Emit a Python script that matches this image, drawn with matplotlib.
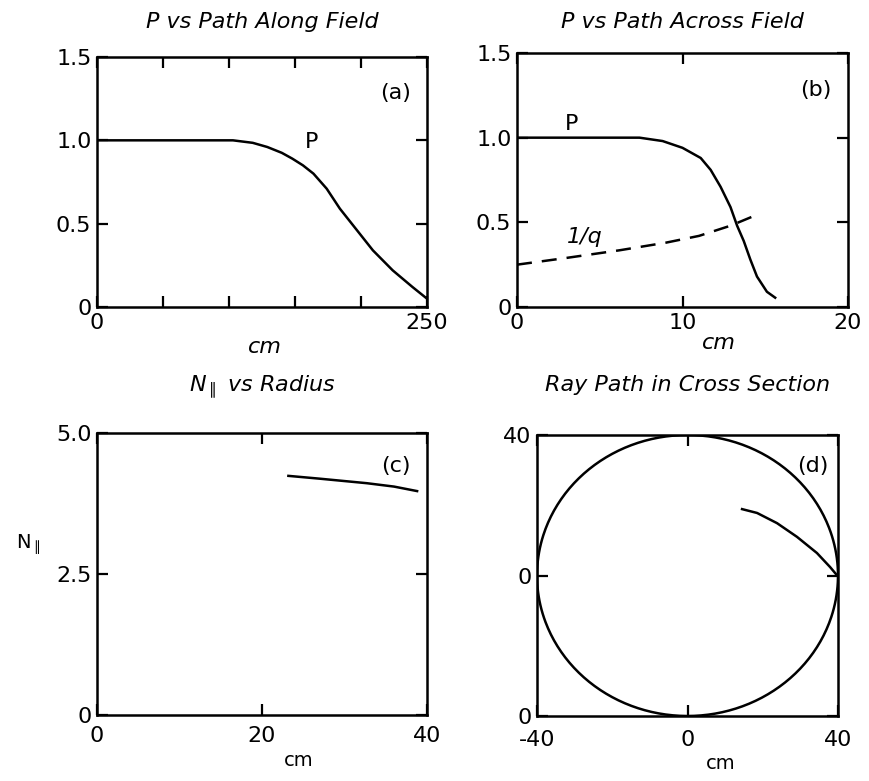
import numpy as np
import matplotlib
matplotlib.use("Agg")
import matplotlib.pyplot as plt

# (a) P vs path along field
a_x = [0, 40, 78, 103, 118, 129, 140, 148, 156, 164, 174, 184, 197, 209, 224, 239, 250]
a_p = [1.0, 1.0, 1.0, 1.0, 0.985, 0.96, 0.925, 0.89, 0.85, 0.80, 0.71, 0.59, 0.46, 0.34, 0.22, 0.12, 0.05]

# (b) P and 1/q vs path across field
b_x = [0, 4, 7.4, 8.8, 10.0, 11.1, 11.7, 12.3, 12.9, 13.3, 13.7, 14.1, 14.5, 15.1, 15.6]
b_p = [1.0, 1.0, 1.0, 0.98, 0.94, 0.88, 0.81, 0.71, 0.59, 0.48, 0.39, 0.28, 0.18, 0.09, 0.055]
q_x = [0, 3, 6.2, 9, 11, 12.9, 14.5]
q_inv = [0.25, 0.29, 0.335, 0.38, 0.42, 0.48, 0.545]

# (c) N_par vs radius
c_r = [23.2, 27, 32.7, 36, 38.8]
c_n = [4.24, 4.19, 4.11, 4.05, 3.97]

# (d) ray path in cross section
d_x = [14.5, 18.5, 23.8, 29.1, 34.4, 37.9, 39.7]
d_y = [18.9, 17.8, 14.9, 11.0, 6.4, 2.4, 0.1]
circle_r = 40

W, H = 869, 781
fig = plt.figure(figsize=(W / 100, H / 100), dpi=100)
plt.rcParams['font.family'] = 'DejaVu Sans'

LW = 1.8
FS = 16


def box(l, t, r, b):
    return fig.add_axes([l / W, (H - b) / H, (r - l) / W, (b - t) / H])


def style(ax, xpad=4):
    for s in ax.spines.values():
        s.set_linewidth(LW)
    ax.tick_params(direction='in', length=8, width=1.6, labelsize=FS,
                   top=True, right=True, pad=4)
    ax.tick_params(axis='x', pad=xpad)


# ---- (a)
ax = box(97, 57, 427, 307)
ax.plot(a_x, a_p, color='black', lw=LW)
ax.set_xlim(0, 250)
ax.set_ylim(0, 1.5)
ax.set_xticks([0, 50, 100, 150, 200, 250])
ax.set_xticklabels(['0', '', '', '', '', '250'])
ax.set_yticks([0, 0.5, 1.0, 1.5])
ax.set_yticklabels(['0', '0.5', '1.0', '1.5'])
style(ax)
ax.set_title('P vs Path Along Field', fontsize=FS, style='oblique', pad=21)
ax.text(0.95, 0.83, '(a)', transform=ax.transAxes, fontsize=FS, ha='right')
ax.text(0.63, 0.66, 'P', transform=ax.transAxes, fontsize=FS, va='center')
ax.text(0.51, -0.16, 'cm', transform=ax.transAxes, fontsize=FS,
        style='oblique', ha='center', va='center')

# ---- (b)
ax = box(517, 53, 848, 307)
ax.plot(b_x, b_p, color='black', lw=LW)
ax.plot(q_x, q_inv, color='black', lw=LW, dashes=(6, 4))
ax.set_xlim(0, 20)
ax.set_ylim(0, 1.5)
ax.set_xticks([0, 10, 20])
ax.set_yticks([0, 0.5, 1.0, 1.5])
ax.set_yticklabels(['0', '0.5', '1.0', '1.5'])
style(ax)
ax.set_title('P vs Path Across Field', fontsize=FS, style='oblique', pad=18)
ax.text(0.95, 0.83, '(b)', transform=ax.transAxes, fontsize=FS, ha='right')
ax.text(0.145, 0.72, 'P', transform=ax.transAxes, fontsize=FS,
        va='center')
ax.text(0.15, 0.275, '1/q', transform=ax.transAxes, fontsize=FS,
        style='oblique', va='center')
ax.text(0.61, -0.14, 'cm', transform=ax.transAxes, fontsize=FS,
        style='oblique', ha='center', va='center')

# ---- (c)
ax = box(97, 433, 427, 715)
ax.plot(c_r, c_n, color='black', lw=LW)
ax.set_xlim(0, 40)
ax.set_ylim(0, 5)
ax.set_xticks([0, 20, 40])
ax.set_yticks([0, 2.5, 5.0])
ax.set_yticklabels(['0', '2.5', '5.0'])
style(ax, xpad=8)
ax.set_title(r'N$_{\parallel}$ vs Radius', fontsize=FS, style='oblique', pad=30)
ax.text(0.95, 0.86, '(c)', transform=ax.transAxes, fontsize=FS, ha='right')
ax.text(0.61, -0.16, 'cm', transform=ax.transAxes, fontsize=FS - 2,
        ha='center', va='center')
fig.text(28 / W, 1 - 545 / H, r'N$_{\parallel}$', fontsize=FS - 2,
         ha='center', va='center')

# ---- (d)
ax = box(537, 435, 838, 716)
th = np.linspace(0, 2 * np.pi, 400)
ax.plot(circle_r * np.cos(th), circle_r * np.sin(th), color='black', lw=LW)
ax.plot(d_x, d_y, color='black', lw=LW)
ax.set_xlim(-40, 40)
ax.set_ylim(-40, 40)
ax.set_xticks([-40, 0, 40])
ax.set_xticklabels(['-40', '0', '40'])
ax.set_yticks([-40, 0, 40])
ax.set_yticklabels(['0', '0', '40'])
style(ax, xpad=10)
ax.set_title('Ray Path in Cross Section', fontsize=FS, style='oblique', pad=32)
ax.text(0.97, 0.87, '(d)', transform=ax.transAxes, fontsize=FS, ha='right')
ax.text(0.61, -0.17, 'cm', transform=ax.transAxes, fontsize=FS - 2,
        ha='center', va='center')

fig.savefig('out.png', dpi=100)
